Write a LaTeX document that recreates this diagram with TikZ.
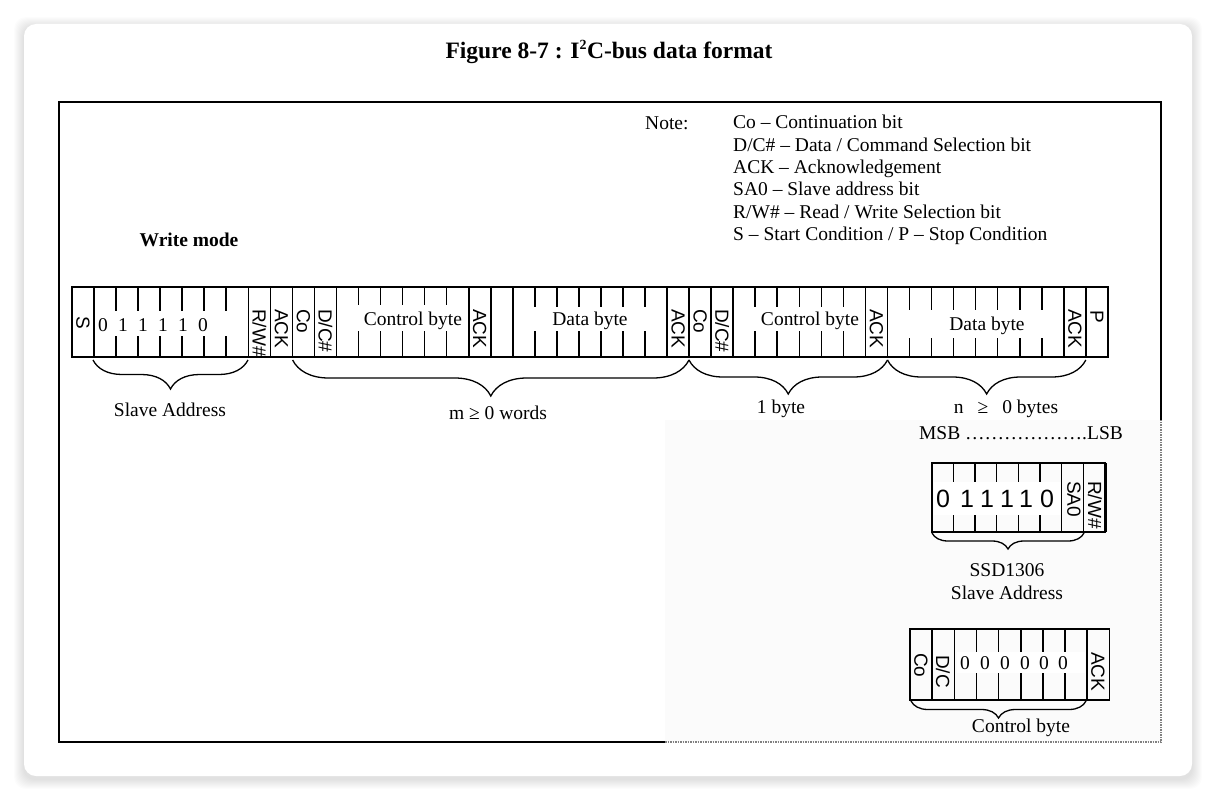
\documentclass[tikz,border=0pt]{standalone}
\usepackage{fontspec}
\setmainfont{Liberation Serif}
\setsansfont{Liberation Sans}
\usetikzlibrary{decorations.pathreplacing}

\tikzset{
  bit/.style={font=\sffamily\fontsize{19}{19}\selectfont, rotate=-90, anchor=west, inner sep=0pt},
  lbl/.style={font=\fontsize{19.5}{22.4}\selectfont, inner sep=0pt},
  bignum/.style={font=\sffamily\fontsize{25}{25}\selectfont, inner sep=0pt},
  cell/.style={line width=1.6pt},
  gap/.style={fill=white},
  brc/.style={decorate, decoration={brace, mirror, amplitude=#1}, line width=1.3pt},
}

\begin{document}
\begin{tikzpicture}[x=1pt, y=-1pt]
\useasboundingbox (0,0) rectangle (1215,800);
% card
\foreach \s in {1,...,10}
  \fill[black, opacity=0.012, rounded corners=12pt] (24-\s,27-\s) rectangle (1192+\s,779+\s);
\fill[white, rounded corners=12pt] (24,24) rectangle (1192,776);
\fill[black!1.5] (665,420) rectangle (1161,742);
\draw[line width=2pt] (1161,420) -- (1161,102) -- (59,102) -- (59,742) -- (665,742);
\draw[gray, line width=1.5pt, densely dotted] (665,742) -- (1161,742) -- (1161,420);

\node[font=\bfseries\fontsize{23.5}{23.5}\selectfont] (title) at (609,52) {Figure 8-7 : I\textsuperscript{\fontsize{14}{14}\selectfont 2}C-bus data format};

% note
\node[lbl, anchor=west] (note) at (645,123) {Note:};
\node[lbl, anchor=north west, align=left] (legend) at (733,115) {Co – Continuation bit\\
  D/C\# – Data / Command Selection bit\\
  ACK – Acknowledgement\\
  SA0 – Slave address bit\\
  R/W\# – Read / Write Selection bit\\
  S – Start Condition / P – Stop Condition};

\node[font=\bfseries\fontsize{19.5}{19.5}\selectfont] (wmode) at (189,240) {Write mode};

% write mode frame
\draw[cell] (72,287) rectangle (1108,357);
\foreach \i in {1,...,46}
  \draw[cell] (72+\i*22.04,287) -- (72+\i*22.04,357);
\fill[gap] (96,311) rectangle (228,336);
\fill[gap] (356,305) rectangle (466,331);
\fill[gap] (516,307) rectangle (663,331);
\fill[gap] (752,307) rectangle (863,331);
\fill[gap] (906,310) rectangle (1061,338);
\foreach \x/\d [count=\k] in {103/0,123/1,143/1,163/1,183/1,203/0}
  \node[lbl] (a\k) at (\x,325) {\d};
\node[lbl] (ctrl1) at (413,321) {Control byte};
\node[lbl] (data1) at (590,321) {Data byte};
\node[lbl] (ctrl2) at (810,321) {Control byte};
\node[lbl] (data2) at (987,326) {Data byte};
\node[bit] (s) at (72+0.5*22.04,316) {S};
\foreach \c/\t in {8/{R/W\#},9/ACK,10/Co,11/{D/C\#},18/ACK,27/ACK,28/Co,29/{D/C\#},36/ACK,45/ACK}
  \node[bit] (b\c) at (72+\c*22.04+11,309) {\t};
\node[bit] (p) at (72+46.5*22.04,310) {P};

% groups
\draw[brc=29] (93,360) -- (248,360);
\node[lbl] (slave) at (170,410) {Slave Address};
\draw[brc=36] (292.6,360) -- (689,360);
\node[lbl] (mwords) at (498,413) {m ≥ 0 words};
\draw[brc=34] (689,360) -- (887.5,360);
\node[lbl] (onebyte) at (781,409) {1 byte};
\draw[brc=34] (887.5,360) -- (1085.8,360);
\node[lbl] (nbytes) at (1006,409) {n\hspace{14pt}≥\hspace{14pt}0 bytes};
\node[lbl] (msb) at (1021,433) {MSB ……………….LSB};

% slave address
\draw[cell] (931.7,463) rectangle (1105,531.7);
\foreach \i in {1,...,7}
  \draw[cell] (931.7+\i*21.66,463) -- (931.7+\i*21.66,531.7);
\draw[line width=3pt] (1105,463) -- (1105,531.7);
\fill[gap] (934,482) rectangle (1061,515);
\foreach \x/\d [count=\k] in {943/0,967/1,987/1,1007/1,1026/1,1047/0}
  \node[bignum] (sa\k) at (\x,499) {\d};
\node[bit] (sa0) at (1074,481) {SA0};
\node[bit] (rw) at (1095,481) {R/W\#};
\draw[brc=16] (932,533) -- (1084,533);
\node[lbl] (ssd) at (1007,570) {SSD1306};
\node[lbl] (ssdaddr) at (1007,593) {Slave Address};

% control byte
\draw[cell] (910,629) rectangle (1109.3,700);
\foreach \i in {1,...,8}
  \draw[cell] (910+\i*22.15,629) -- (910+\i*22.15,700);
\fill[gap] (957,652) rectangle (1085,673);
\foreach \x [count=\k] in {965,985,1005,1025,1044,1063}
  \node[lbl] (z\k) at (\x,663) {0};
\node[bit] (co) at (921,653) {Co};
\node[bit] (dc) at (943,655) {D/C};
\node[bit] (ack) at (1098,652) {ACK};
\draw[brc=17] (911,701) -- (1086,701);
\node[lbl] (ctrlbyte) at (1021,728) {Control byte};
\end{tikzpicture}
\end{document}
